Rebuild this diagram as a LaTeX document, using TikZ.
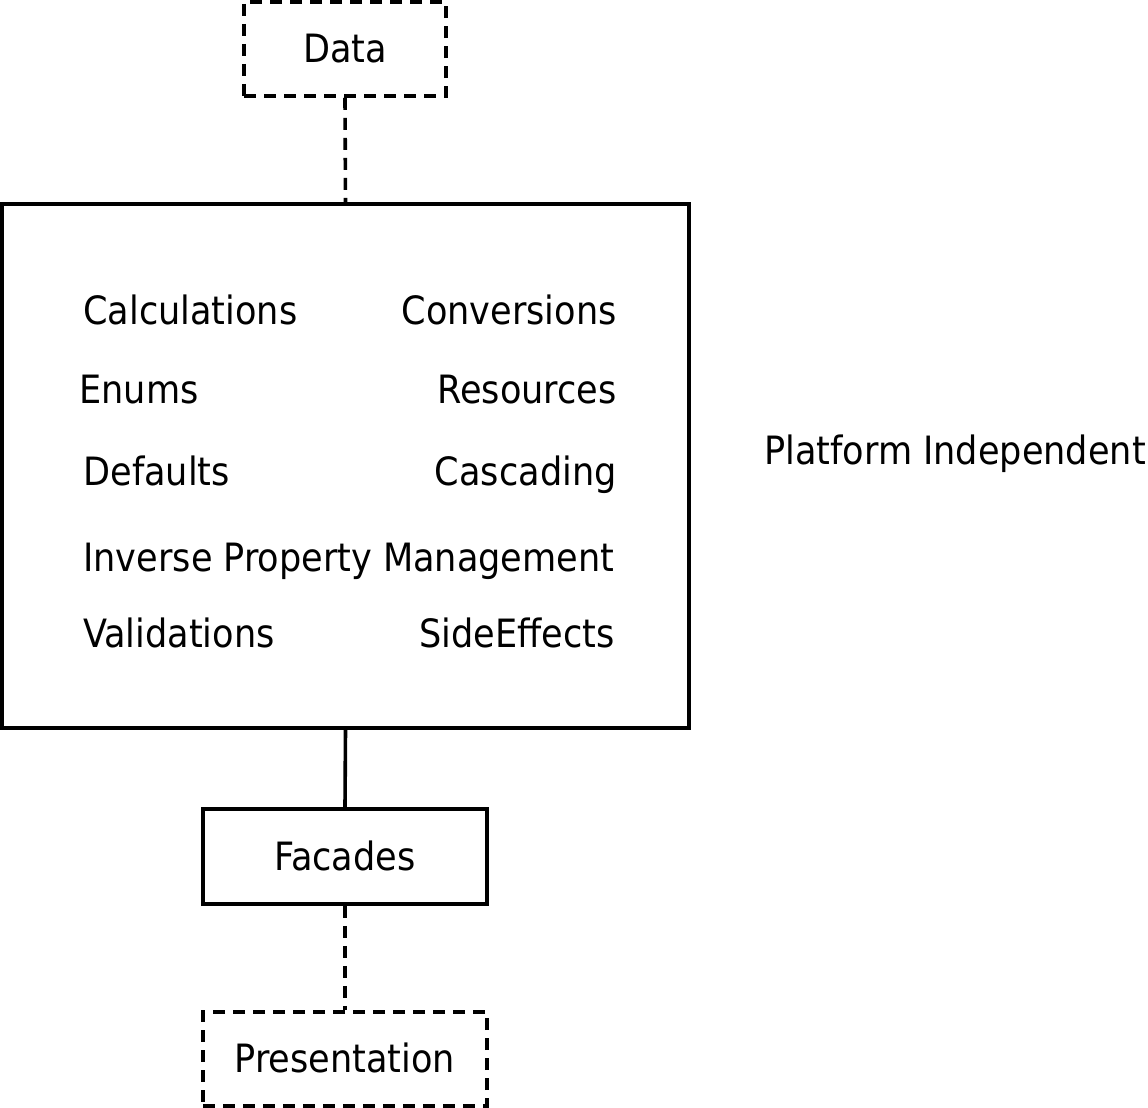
\documentclass[tikz,border=0pt]{standalone}
\usepackage{fontspec}
\setmainfont{DejaVu Sans Condensed}
\usepackage{tikz}
\usetikzlibrary{positioning}

\begin{document}
\begin{tikzpicture}[
  x=0.5pt,y=-0.5pt,font=\fontsize{19.5}{22}\selectfont,
  box/.style 2 args={rectangle,draw=black,line width=1.8pt,minimum width=#1,minimum height=#2,inner sep=0pt},
  ghost/.style={dash pattern=on 6pt off 4pt},
  itmL/.style={anchor=base west,inner sep=0pt},
  itmR/.style={anchor=base east,inner sep=0pt},
  ln/.style={line width=1.8pt,draw=black}
]
\useasboundingbox (0,0) rectangle (1148,1108);

%======================= BOXES =======================
\node[box={101pt}{47pt},ghost] (data) at (345,49) {};
\node[anchor=base] (dataT) at (345,62) {Data};
\node[box={343.5pt}{262pt}] (core) at (345.5,466) {};
\node[box={142pt}{47.5pt}] (fac) at (345,856.5) {};
\node[anchor=base] (facT) at (345,870) {Facades};
\node[box={142pt}{47pt},ghost] (pres) at (345,1059) {};
\node[anchor=base] (presT) at (345,1072) {Presentation};

%======================= ITEMS =======================
\node[itmL] (calc) at (83,324) {Calculations};
\node[itmR] (conv) at (617,324) {Conversions};
\node[itmL] (enum) at (79,403) {Enums};
\node[itmR] (res)  at (617,403) {Resources};
\node[itmL] (defl) at (83,485) {Defaults};
\node[itmR] (casc) at (617,485) {Cascading};
\node[itmL] (inv)  at (83,571) {Inverse Property Management};
\node[itmL] (vali) at (83,647) {Validations};
\node[itmR] (side) at (615,647) {SideEffects};

\node[anchor=base west,inner sep=0pt] (plat) at (764,464) {Platform Independent};

%======================= CONNECTORS =======================
\draw[ln,ghost] (data.south) -- (core.north);
\draw[ln] (core.south) -- (fac.north);
\draw[ln,ghost] (fac.south) -- (pres.north);

\end{tikzpicture}
\end{document}
